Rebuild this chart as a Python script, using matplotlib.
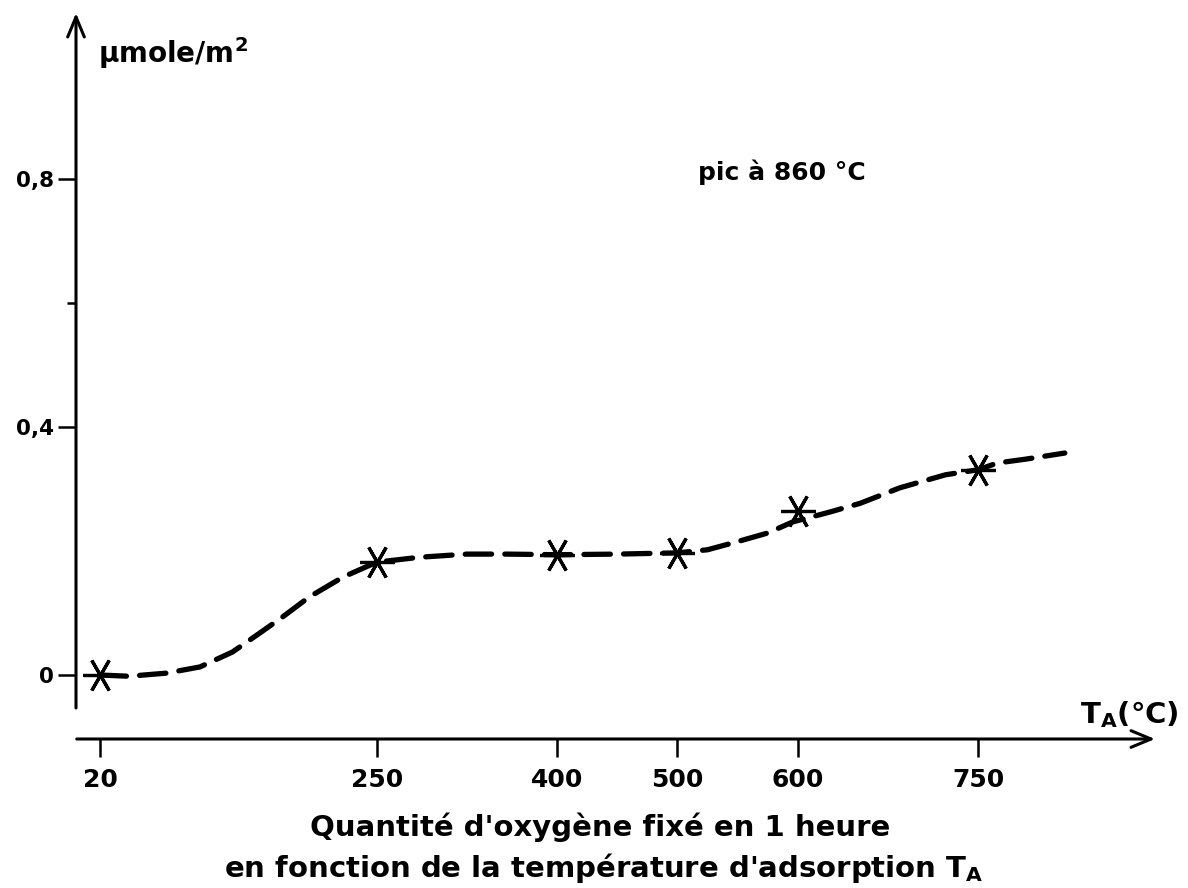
import numpy as np
import matplotlib
matplotlib.use("Agg")
import matplotlib.pyplot as plt

plt.rcParams['font.family'] = ['DejaVu Sans']
plt.rcParams['font.weight'] = 'bold'
plt.rcParams['mathtext.fontset'] = 'dejavusans'
plt.rcParams['mathtext.default'] = 'bf'
plt.rcParams['lines.scale_dashes'] = False

# Measured oxygen uptake after 1 h at each adsorption temperature
temps = [20, 250, 400, 500, 600, 750]
oxygen = [0.000, 0.182, 0.194, 0.197, 0.265, 0.331]

# Hand-drawn trend curve
curve_temp = [20, 44, 75, 103, 130, 153, 172, 194, 222, 250, 286, 325, 358,
              400, 450, 500, 525, 546, 575, 596, 627, 652, 685, 723, 750,
              766, 789, 822]
curve_val = [0.000, -0.002, 0.003, 0.013, 0.037, 0.068, 0.094, 0.126, 0.158,
             0.182, 0.190, 0.195, 0.195, 0.194, 0.195, 0.197, 0.202, 0.213,
             0.229, 0.247, 0.263, 0.277, 0.302, 0.323, 0.331, 0.342, 0.348,
             0.358]

x_ticks = [20, 250, 400, 500, 600, 750]
x_tick_labels = ['20', '250', '400', '500', '600', '750']
y_ticks = [0, 0.4, 0.8]
y_tick_labels = ['0', '0,4', '0,8']
y_minor_ticks = [0.6]

W, H = 1188, 888
fig = plt.figure(figsize=(W / 100, H / 100), dpi=100)
fig.patch.set_facecolor('white')

# axes frame in pixel terms
left_px, right_px, top_px, bottom_px = 76, 1155, 13, 739
ax = fig.add_axes([left_px / W, 1 - bottom_px / H,
                   (right_px - left_px) / W, (bottom_px - top_px) / H])
ax.set_xlim(0, 897)
ax.set_ylim(-0.1032, 1.0677)
for s in ax.spines.values():
    s.set_visible(False)
ax.patch.set_alpha(0)

# dashed trend line and asterisk markers
ax.plot(curve_temp, curve_val, color='black', lw=3.8, dashes=(19, 9.5),
        dash_capstyle='round', zorder=2)
ax.plot(temps, oxygen, linestyle='none', marker=(6, 2, 90), markersize=25,
        markeredgewidth=2.3, color='black', zorder=3)

# axis lines with open arrow heads
arrow = dict(arrowstyle='->,head_length=0.72,head_width=0.3', lw=2.2,
             color='black', mutation_scale=20, shrinkA=0, shrinkB=0)
y_axis_bottom = (675 - 708) / 620
ax.annotate('', xy=(0, 1), xycoords=('data', 'axes fraction'),
            xytext=(0, y_axis_bottom), textcoords='data', arrowprops=arrow)
ax.annotate('', xy=(1, 0), xycoords='axes fraction',
            xytext=(0.0007, 0), textcoords='axes fraction', arrowprops=arrow)

# ticks
ax.set_xticks(x_ticks)
ax.set_xticklabels(x_tick_labels, fontsize=18, fontweight='bold')
ax.set_yticks(y_ticks)
ax.set_yticklabels(y_tick_labels, fontsize=15.5, fontweight='bold')
ax.set_yticks(y_minor_ticks, minor=True)
ax.tick_params(axis='x', direction='out', length=13, width=1.8, pad=8)
ax.tick_params(axis='y', which='major', direction='out', length=13,
               width=1.8, pad=3)
ax.tick_params(axis='y', which='minor', direction='out', length=6.5,
               width=1.8)


def put(x_px, y_px, s, **kw):
    fig.text(x_px / W, 1 - y_px / H, s, va='baseline', fontweight='bold', **kw)


put(98, 63, 'μmole/m$^{2}$', fontsize=20, ha='left')
put(698, 180, 'pic à 860 °C', fontsize=18, ha='left')
put(1080, 723, 'T$_{A}$(°C)', fontsize=21, ha='left')
put(600, 836, "Quantité d'oxygène fixé en 1 heure", fontsize=21, ha='center')
put(604, 877, "en fonction de la température d'adsorption T$_{A}$",
    fontsize=21, ha='center')

fig.savefig('out.png', dpi=100)
